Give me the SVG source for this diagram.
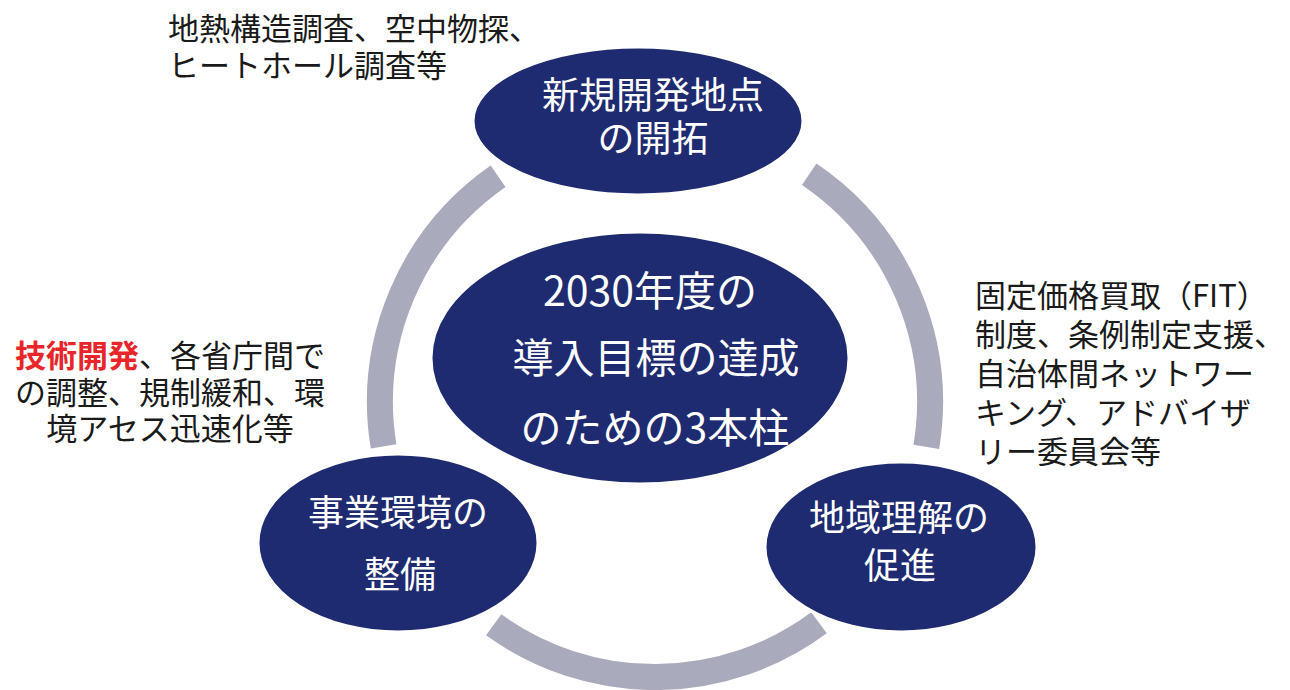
<svg xmlns="http://www.w3.org/2000/svg" width="1290" height="690" viewBox="0 0 1290 690">
<style>
.node{fill:#1f2b70;stroke:#ffffff;stroke-width:3}
.nt{fill:#ffffff;font-family:"Noto Sans CJK JP","Noto Sans",sans-serif;text-anchor:middle}
.ann{fill:#1a1a1a;font-family:"Noto Sans CJK JP","Noto Sans",sans-serif;font-size:31px}
.arc{fill:none;stroke:#aaaabd;stroke-width:26}
.red{fill:#e8262a;font-weight:bold}
</style>
<rect width="1290" height="690" fill="#ffffff"/>
<g id="connectors">
<path class="arc" d="M498.1,176.2 A275,275 0 0 0 383.6,446.4"/>
<path class="arc" d="M809.2,174.3 A275,275 0 0 1 926.3,446.9"/>
<path class="arc" d="M493.7,624.8 A275,275 0 0 0 819,622.8"/>
</g>
<g id="node-top">
<ellipse class="node" cx="638" cy="121" rx="165" ry="74"/>
<text class="nt" font-size="37" x="653" y="109">新規開発地点</text>
<text class="nt" font-size="37" x="653" y="152">の開拓</text>
</g>
<g id="node-center">
<ellipse class="node" cx="640" cy="358" rx="209" ry="126"/>
<text class="nt" font-size="41" x="650" y="306">2030年度の</text>
<text class="nt" font-size="41" x="656" y="373">導入目標の達成</text>
<text class="nt" font-size="41" x="655" y="443">のための3本柱</text>
</g>
<g id="node-left">
<ellipse class="node" cx="398" cy="543" rx="140" ry="89"/>
<text class="nt" font-size="36" x="398" y="526">事業環境の</text>
<text class="nt" font-size="36" x="400" y="588">整備</text>
</g>
<g id="node-right">
<ellipse class="node" cx="901" cy="547" rx="136" ry="85"/>
<text class="nt" font-size="36" x="899" y="531">地域理解の</text>
<text class="nt" font-size="36" x="900" y="579">促進</text>
</g>
<g id="annotations">
<text class="ann" x="168" y="40">地熱構造調査、空中物探、</text>
<text class="ann" x="168" y="77">ヒートホール調査等</text>
<text class="ann" x="170" y="367" text-anchor="middle"><tspan class="red">技術開発</tspan>、各省庁間で</text>
<text class="ann" x="170" y="404" text-anchor="middle">の調整、規制緩和、環</text>
<text class="ann" x="170" y="440" text-anchor="middle">境アセス迅速化等</text>
<text class="ann" x="975" y="307">固定価格買取（FIT）</text>
<text class="ann" x="975" y="346">制度、条例制定支援、</text>
<text class="ann" x="975" y="385">自治体間ネットワー</text>
<text class="ann" x="975" y="424">キング、アドバイザ</text>
<text class="ann" x="975" y="463">リー委員会等</text>
</g>
</svg>
